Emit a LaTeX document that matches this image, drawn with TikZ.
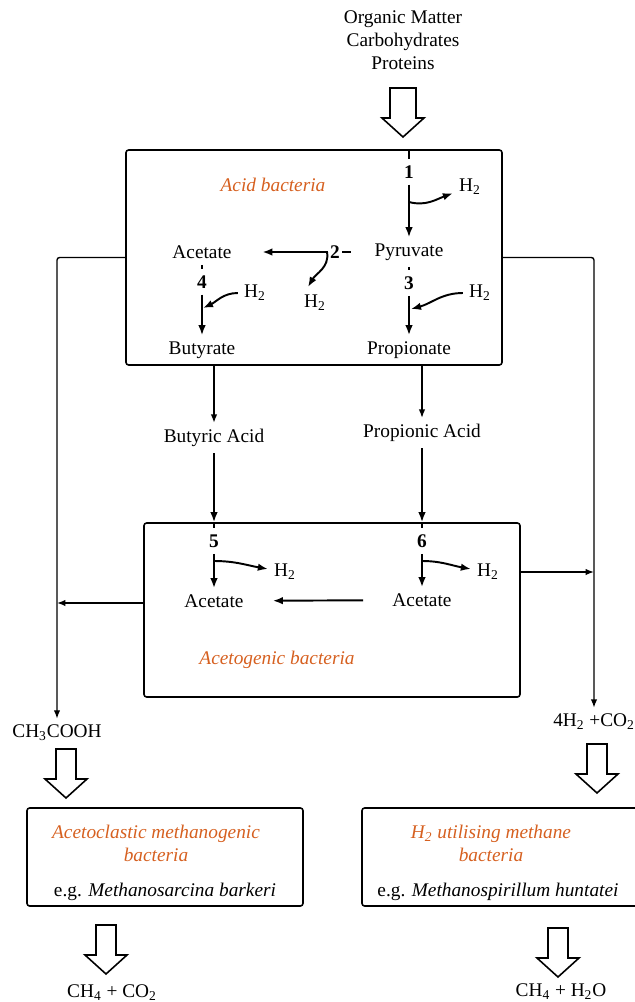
\documentclass[tikz,border=0pt]{standalone}
\usepackage{fontspec}
\setmainfont{Liberation Serif}
\usetikzlibrary{arrows.meta,fit}
\definecolor{bactcolor}{RGB}{214,96,32}

\begin{document}
\begin{tikzpicture}[
		x=0.02cm, y=-0.02cm,
		font=\fontsize{11}{13}\selectfont,
		lbl/.style={inner sep=0.12cm},
		num/.style={inner sep=0.12cm, font=\fontsize{11}{13}\selectfont\bfseries},
		bact/.style={text=bactcolor, font=\fontsize{11}{13}\selectfont\itshape, align=center},
		box/.style={draw, line width=0.9pt, rounded corners=1.5pt, inner sep=0pt},
		rxn/.style={-{Latex[length=2mm,width=1.5mm]}, line width=1.1pt},
		link/.style={line width=1.1pt},
		bus/.style={-{Latex[length=1.7mm,width=1.3mm]}, line width=0.8pt, rounded corners=1.5pt},
		fatarrow/.pic={\draw[line width=0.9pt, line join=miter] (-#1,0) -- (#1,0) -- (#1,30) -- (21,30) -- (0,49) -- (-21,30) -- (-#1,30) -- cycle;}
	]
		\useasboundingbox (0,0) rectangle (635,1002);
		% feed
		\node[align=center] (feed) at (403,40) {Organic Matter\\Carbohydrates\\Proteins};
		\pic at (403,88) {fatarrow=13};

		% acid bacteria
		\node[box, fit={(126,150) (502,365)}] (acid) {};
		\node[bact] (acidlbl) at (273,185) {Acid bacteria};
		\node[num] (one) at (409,172) {1};
		\node[lbl] (pyr) at (409,252) {Pyruvate};
		\node[lbl] (h2one) at (470,187) {H\textsubscript{2}};
		\node[num, inner sep=0.04cm] (two) at (335,252) {2};
		\node[lbl] (acet) at (202,252) {Acetate};
		\node[lbl] (h2two) at (315,303) {H\textsubscript{2}};
		\node[num] (four) at (202,282) {4};
		\node[lbl] (h2four) at (255,293) {H\textsubscript{2}};
		\node[lbl] (buty) at (202,350) {Butyrate};
		\node[num] (three) at (409,283) {3};
		\node[lbl] (h2three) at (480,293) {H\textsubscript{2}};
		\node[lbl] (prop) at (409,350) {Propionate};
		\coordinate (b1) at (409,202);
		\coordinate (b2) at (327,252);
		\coordinate (b2end) at (308,287);
		\coordinate (b4) at (203,308);
		\coordinate (b3) at (411,309);

		\draw[link] (acid.north -| one) -- (one);
		\draw[rxn] (one) -- (pyr);
		\draw[rxn] (b1) to[out=-15,in=200] (h2one);
		\draw[link, shorten <=0.35cm] (pyr) -- (two);
		\draw[rxn, shorten >=0.49cm] (two) -- (acet);
		\draw[rxn] (b2) to[out=-80,in=60] (b2end);
		\draw[link] (acet) -- (four);
		\draw[rxn] (four) -- (buty);
		\draw[rxn] (h2four) to[out=180,in=25] (b4);
		\draw[link] (pyr) -- (three);
		\draw[rxn] (three) -- (prop);
		\draw[rxn] (h2three) to[out=180,in=15] (b3);

		% acids
		\node[lbl] (butyric) at (214,438) {Butyric Acid};
		\node[lbl] (propionic) at (422,433) {Propionic Acid};

		% acetogenic bacteria
		\node[box, fit={(144,523) (520,697)}] (acetog) {};
		\node[num] (five) at (214,541) {5};
		\node[lbl] (acl) at (214,601) {Acetate};
		\node[lbl] (h2five) at (285,572) {H\textsubscript{2}};
		\node[num] (six) at (422,541) {6};
		\node[lbl] (acr) at (422,600) {Acetate};
		\node[lbl] (h2six) at (488,572) {H\textsubscript{2}};
		\node[bact] (acetolbl) at (277,660) {Acetogenic bacteria};
		\coordinate (b5) at (214,561);
		\coordinate (b6) at (422,561);

		\draw[bus] (acid.south -| butyric) -- (butyric);
		\draw[bus] (acid.south -| propionic) -- (propionic);
		\draw[rxn] (butyric) -- (butyric |- acetog.north);
		\draw[rxn] (propionic) -- (propionic |- acetog.north);
		\draw[link] (acetog.north -| five) -- (five);
		\draw[link] (acetog.north -| six) -- (six);
		\draw[rxn] (five) -- (acl);
		\draw[rxn] (six) -- (acr);
		\draw[rxn] (b5) to[out=0,in=170] (h2five);
		\draw[rxn] (b6) to[out=0,in=170] (h2six);
		\draw[rxn, shorten <=0.46cm, shorten >=0.46cm] (acr) -- (acl);

		% side products
		\node[lbl] (ch3) at (57,733) {CH\textsubscript{3}COOH};
		\node[lbl] (h2co2) at (594,722) {4H\textsubscript{2} +CO\textsubscript{2}};
		\coordinate (lbus) at (57,603);
		\coordinate (rbus) at (594,572);
		\draw[bus] (acid.west) -| (ch3);
		\draw[bus] (acid.east) -| (h2co2);
		\draw[bus] (acetog.west |- lbus) -- (lbus);
		\draw[bus] (acetog.east |- rbus) -- (rbus);

		% methanogens
		\pic at (66,749) {fatarrow=10};
		\node[box, fit={(27,808) (303,906)}] (aceticlast) {};
		\node[bact] (aceticname) at (156,843.5) {Acetoclastic methanogenic\\bacteria};
		\node (aceticeg) at (165,892) {e.g. \textit{Methanosarcina barkeri}};
		\pic at (106,925) {fatarrow=10};
		\node (gasleft) at (112,993) {CH\textsubscript{4} + CO\textsubscript{2}};

		\pic at (597,744) {fatarrow=10};
		\node[box, fit={(362,808) (645,906)}] (hydro) {};
		\node[bact] (hydroname) at (491,843.5) {H\textsubscript{2} utilising methane\\bacteria};
		\node (hydroeg) at (498,892) {e.g. \textit{Methanospirillum huntatei}};
		\pic at (558,928) {fatarrow=10};
		\node (gasright) at (561,992) {CH\textsubscript{4} + H\textsubscript{2}O};
	\end{tikzpicture}
\end{document}
